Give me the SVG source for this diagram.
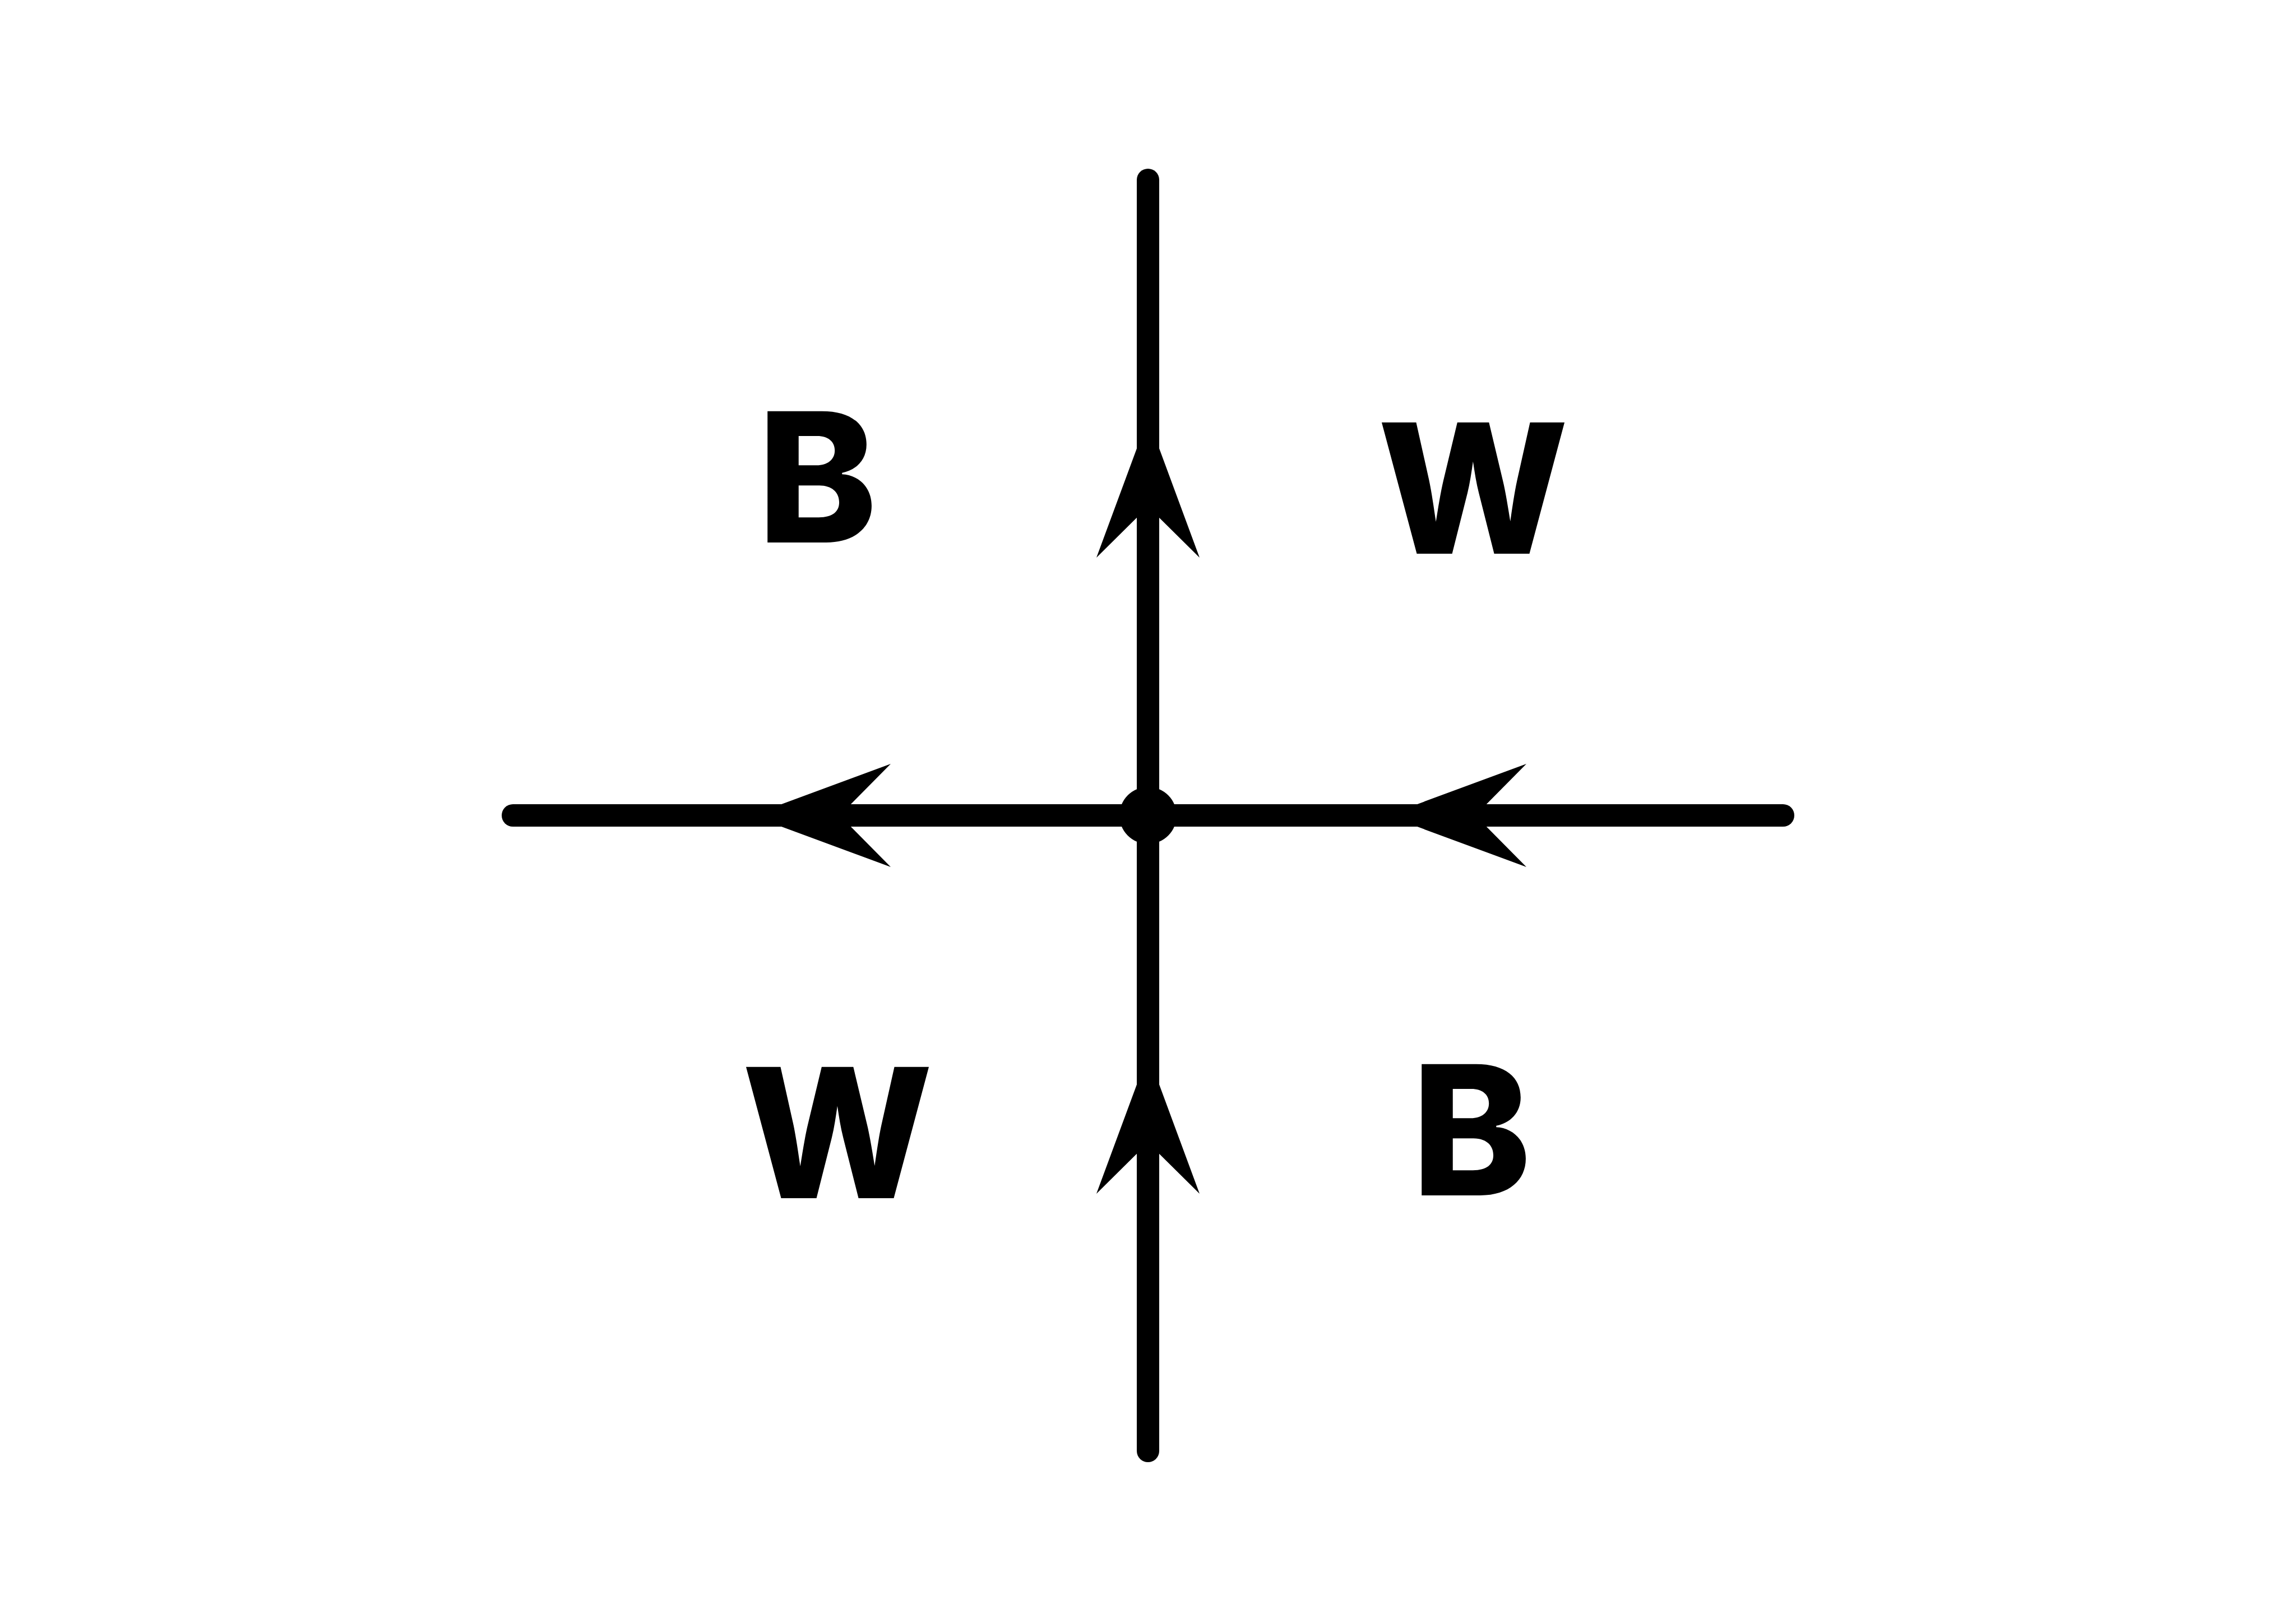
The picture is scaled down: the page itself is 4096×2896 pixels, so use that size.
<svg xmlns="http://www.w3.org/2000/svg" width="4096" height="2896" viewBox="0 0 4096 2896">
<defs>
<style>
.edge{stroke:#000;stroke-width:40;stroke-linecap:round;fill:none}
.lbl{font-family:Inter,"Liberation Sans",sans-serif;font-weight:800;font-size:322px;fill:#000;text-anchor:middle}
</style>
<path id="ah" d="M0,0 L249,-92 L158,0 L249,92 Z" fill="#000"/>
</defs>
<rect width="4096" height="2896" fill="#fff"/>
<g id="connectors">
<line class="edge" x1="2048" y1="1455" x2="2048" y2="321"/>
<line class="edge" x1="2048" y1="2589" x2="2048" y2="1455"/>
<line class="edge" x1="2048" y1="1455" x2="915" y2="1455"/>
<line class="edge" x1="3181" y1="1455" x2="2048" y2="1455"/>
<use href="#ah" transform="translate(2048,746) rotate(90)"/>
<use href="#ah" transform="translate(2048,1881) rotate(90)"/>
<use href="#ah" transform="translate(1340,1455)"/>
<use href="#ah" transform="translate(2474,1455)"/>
</g>
<g id="center"><circle cx="2048" cy="1455" r="51" fill="#000"/></g>
<g id="label-b-top"><text class="lbl" x="1458" y="968">B</text></g>
<g id="label-w-top"><text class="lbl" x="2628" y="988">W</text></g>
<g id="label-w-bottom"><text class="lbl" x="1494" y="2138">W</text></g>
<g id="label-b-bottom"><text class="lbl" x="2625" y="2133">B</text></g>
</svg>
